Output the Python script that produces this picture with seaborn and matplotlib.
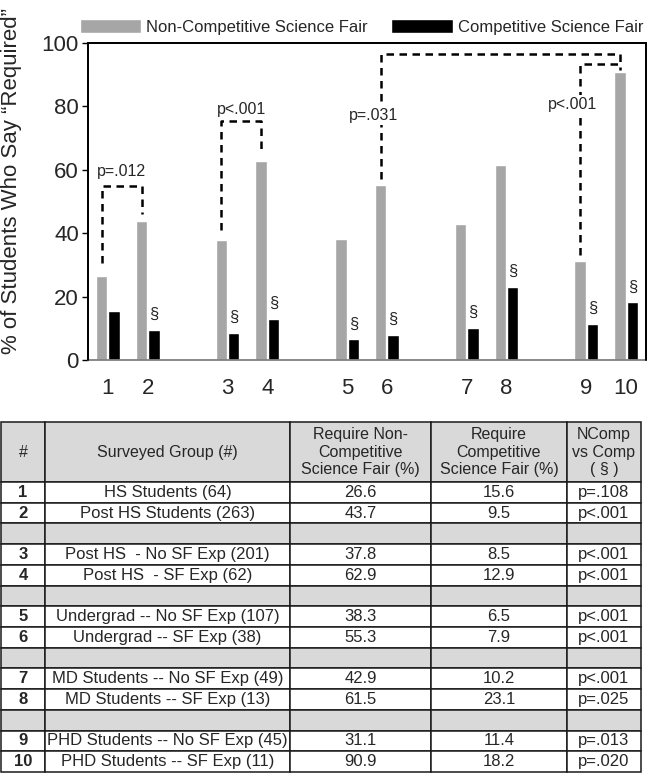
import numpy as np
import pandas as pd
import seaborn as sns
import matplotlib.pyplot as plt
from matplotlib.patches import Rectangle

groups = ['1', '2', '3', '4', '5', '6', '7', '8', '9', '10']
surveyed = ['HS Students (64)', 'Post HS Students (263)', 'Post HS  - No SF Exp (201)',
            'Post HS  - SF Exp (62)', 'Undergrad -- No SF Exp (107)', 'Undergrad -- SF Exp (38)',
            'MD Students -- No SF Exp (49)', 'MD Students -- SF Exp (13)',
            'PHD Students -- No SF Exp (45)', 'PHD Students -- SF Exp (11)']
noncomp = [26.6, 43.7, 37.8, 62.9, 38.3, 55.3, 42.9, 61.5, 31.1, 90.9]
comp = [15.6, 9.5, 8.5, 12.9, 6.5, 7.9, 10.2, 23.1, 11.4, 18.2]
pcomp = ['p=.108', 'p<.001', 'p<.001', 'p<.001', 'p<.001', 'p<.001', 'p<.001', 'p=.025', 'p=.013', 'p=.020']
order = ['1', '2', 'gap1', '3', '4', 'gap2', '5', '6', 'gap3', '7', '8', 'gap4', '9', '10']
series = ['Non-Competitive Science Fair', 'Competitive Science Fair']

# brackets: (left group, right group, label, top, left foot, right foot, label y)
brackets = [('1', '2', 'p=.012', 55.0, 30.5, 46.0, 59.5),
            ('3', '4', 'p<.001', 75.5, 41.0, 65.5, 79.0),
            ('6', '10', 'p=.031', 96.5, 57.0, 93.4, 77.0),
            ('9', '10', 'p<.001', 93.4, 33.0, 91.5, 80.5)]

sns.set_style('ticks')
plt.rcParams['font.family'] = ['Liberation Sans', 'DejaVu Sans']

fig = plt.figure(figsize=(6.48, 7.78), dpi=100)
W, H = 648, 778
ax = fig.add_axes([88 / W, 1 - 360 / H, (646 - 88) / W, (360 - 43) / H])

df = pd.DataFrame({'group': groups * 2,
                   'series': [series[0]] * 10 + [series[1]] * 10,
                   'value': noncomp + comp})
sns.barplot(data=df, x='group', y='value', hue='series', order=order, hue_order=series,
            palette=['#a6a6a6', '#000000'], width=0.62, gap=0.08, errorbar=None,
            saturation=1, ax=ax)

ax.set_ylim(0, 100)
ax.set_xlim(-0.5, len(order) - 0.5)
ax.set_yticks([0, 20, 40, 60, 80, 100])
pos = {g: order.index(g) for g in groups}
ax.set_xticks([pos[g] for g in groups], groups)
ax.tick_params(axis='x', length=0, pad=13, labelsize=16)
ax.tick_params(axis='y', length=4.5, width=1, pad=2, labelsize=16, color='black')
ax.set_xlabel('')
ax.set_ylabel('% of Students Who Say “Required”', fontsize=16)
ax.yaxis.set_label_coords(-0.118, 0.565)
for s in ['left', 'top', 'right']:
    ax.spines[s].set_visible(True)
    ax.spines[s].set_linewidth(1.3)
    ax.spines[s].set_color('black')
ax.spines['bottom'].set_color('#808080')
ax.spines['bottom'].set_linewidth(1.3)
# frame on top, left and right like the original box
ax.plot([0, 0, 1, 1], [0, 1, 1, 0], transform=ax.transAxes, color='black', lw=1.3,
        clip_on=False, zorder=6)

ax.legend(loc='lower center', bbox_to_anchor=(0.49, 1.0), ncol=2, frameon=False,
          handlelength=3.7, handleheight=0.95, fontsize=12, columnspacing=1.4,
          handletextpad=0.3, borderaxespad=0.1)

# bar centres from the drawn patches
gray_x = sorted(p.get_x() + p.get_width() / 2 for p in ax.containers[0])
black_x = sorted(p.get_x() + p.get_width() / 2 for p in ax.containers[1])
gx = dict(zip(groups, gray_x))
bx = dict(zip(groups, black_x))

dash = dict(color='black', lw=1.8, ls=(0, (3, 2.2)))
for a, b, lab, top, fa, fb, ty in brackets:
    ax.plot([gx[a], gx[a], gx[b], gx[b]], [fa, top, top, fb], **dash, clip_on=False)
    if a in ('6', '9'):
        tx = gx[a] - 0.18
    else:
        tx = (gx[a] + gx[b]) / 2
    ax.text(tx, ty, lab, ha='center', va='center', fontsize=11.5,
            bbox=dict(facecolor='white', edgecolor='none', pad=1.5))

# section marks where comp vs non-comp differs
pvals = [float(p[2:]) for p in pcomp]
for g, v, pv in zip(groups, comp, pvals):
    if pv < 0.05:
        ax.text(bx[g], v + 2.5, '§', ha='center', va='bottom', fontsize=12)

# table
tax = fig.add_axes([1 / W, 1 - 772 / H, (641 - 1) / W, (772 - 422) / H])
tax.axis('off')
header = ['#', 'Surveyed Group (#)', 'Require Non-\nCompetitive\nScience Fair (%)',
          'Require\nCompetitive\nScience Fair (%)', 'NComp\nvs Comp\n( § )']
rows = [header]
colors = [['#d9d9d9'] * 5]
for g in order:
    if g in groups:
        i = groups.index(g)
        rows.append([g, surveyed[i], f'{noncomp[i]:.1f}', f'{comp[i]:.1f}', pcomp[i]])
        colors.append(['white'] * 5)
    else:
        rows.append([''] * 5)
        colors.append(['#d9d9d9'] * 5)

col_w = np.array([44, 245, 141, 136, 74], dtype=float)
tbl = tax.table(cellText=rows, cellColours=colors, colWidths=list(col_w / col_w.sum()),
                cellLoc='center', bbox=[0, 0, 1, 1])
tbl.auto_set_font_size(False)
head_h, row_h = 60, 20.7
total_h = head_h + row_h * (len(rows) - 1)
for (r, c), cell in tbl.get_celld().items():
    cell.set_edgecolor('#1a1a1a')
    cell.set_linewidth(1.1)
    cell.set_height((head_h if r == 0 else row_h) / total_h)
    txt = cell.get_text()
    if r == 0:
        txt.set_fontsize(11.5)
    else:
        txt.set_fontsize(12)
        if c == 0:
            txt.set_fontweight('bold')

fig.savefig('out.png', dpi=100)
